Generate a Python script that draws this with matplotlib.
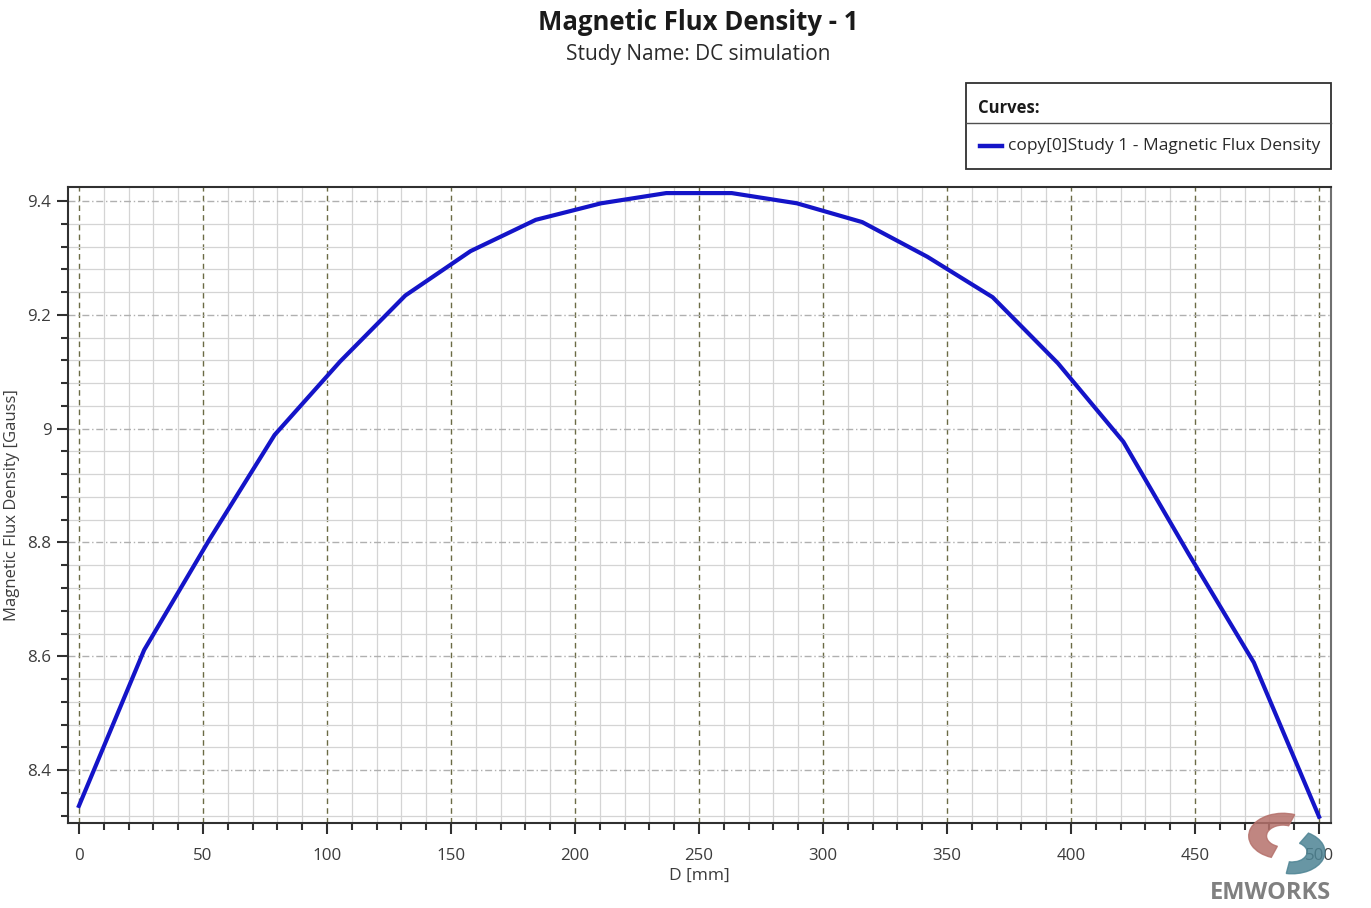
import matplotlib.pyplot as plt
from matplotlib.lines import Line2D
from matplotlib.patches import Rectangle, Wedge
from matplotlib.ticker import MultipleLocator, FuncFormatter

# sample positions along D [mm] and flux density values [Gauss]
d_mm = [0, 26.3, 52.6, 78.9, 105.3, 131.6, 157.9, 184.2, 210.5, 236.8,
        263.2, 289.5, 315.8, 342.1, 368.4, 394.7, 421.1, 447.4, 473.7, 500]
flux = [8.337, 8.611, 8.805, 8.989, 9.118, 9.234, 9.312, 9.367, 9.396, 9.414,
        9.414, 9.396, 9.363, 9.302, 9.231, 9.115, 8.977, 8.780, 8.589, 8.318]

title = "Magnetic Flux Density - 1"
subtitle = "Study Name: DC simulation"
curve_name = "copy[0]Study 1 - Magnetic Flux Density"

plt.rcParams['font.family'] = ['Open Sans', 'DejaVu Sans']

fig = plt.figure(figsize=(13.71, 9.08), dpi=100)
ax = fig.add_axes([0.0496, 0.0936, 0.9212, 0.7004])

line, = ax.plot(d_mm, flux, color="#1414c8", lw=3.0, solid_joinstyle='round')

ax.set_xlim(-4.4, 504.8)
ax.set_ylim(8.307, 9.4246)
ax.xaxis.set_major_locator(MultipleLocator(50))
ax.xaxis.set_minor_locator(MultipleLocator(10))
ax.yaxis.set_major_locator(MultipleLocator(0.2))
ax.yaxis.set_minor_locator(MultipleLocator(0.04))
ax.yaxis.set_major_formatter(FuncFormatter(lambda v, p: f"{v:.1f}" if abs(v - round(v)) > 1e-9 else f"{int(round(v))}"))

# grid: light minor lines, dashed majors
ax.grid(which='minor', color="#d4d4d4", lw=0.9, ls='-')
ax.xaxis.grid(which='major', color="#6b6b45", lw=1.0, ls=(0, (4, 3)))
ax.yaxis.grid(which='major', color="#b0b0b0", lw=1.0, ls=(0, (5, 2, 1, 2)))
ax.set_axisbelow(True)

for s in ax.spines.values():
    s.set_color("#303030")
    s.set_linewidth(1.5)
ax.spines['right'].set_color("#707070")

ax.tick_params(which='major', direction='out', length=8, width=1.5, color="#303030",
               labelsize=12.2, labelcolor="#3c3c3c")
ax.tick_params(which='minor', direction='out', length=5, width=1.5, color="#303030")
ax.tick_params(axis='x', which='major', pad=10)
ax.tick_params(axis='y', which='major', pad=4)

ax.set_xlabel("D [mm]", fontsize=12.5, color="#3c3c3c", labelpad=3)
ax.set_ylabel("Magnetic Flux Density [Gauss]", fontsize=12, color="#3c3c3c")
ax.yaxis.set_label_coords(-0.038, 0.5)

fig.text(0.509, 0.975, title, ha='center', va='center', fontsize=18.5, fontweight='bold', color="#1a1a1a")
fig.text(0.509, 0.940, subtitle, ha='center', va='center', fontsize=15, color="#2a2a2a")

# legend box drawn like the original "Curves:" panel
W, H = 1371.0, 908.0
x0, x1 = 966 / W, 1331 / W
y_top, y_bot = 1 - 83 / H, 1 - 169 / H
fig.add_artist(Rectangle((x0, y_bot), x1 - x0, y_top - y_bot, transform=fig.transFigure,
                         fill=False, edgecolor="#303030", lw=1.3))
fig.add_artist(Line2D([x0, x1], [1 - 123 / H] * 2, transform=fig.transFigure, color="#505050", lw=1.0))
fig.text(978 / W, 1 - 108 / H, "Curves:", fontsize=12, fontweight='bold', va='center', color="#1a1a1a")
fig.add_artist(Line2D([980 / W, 1002 / W], [1 - 146 / H] * 2, transform=fig.transFigure,
                      color=line.get_color(), lw=3.2))
fig.text(1008 / W, 1 - 146 / H, curve_name, fontsize=12.5, va='center', color="#2a2a2a")

# EMWORKS mark
fig.add_artist(Wedge((1283 / W, 1 - 836 / H), 0.025, 70, 250, width=0.013,
                     transform=fig.transFigure, color="#b5716b", alpha=0.85))
fig.add_artist(Wedge((1292 / W, 1 - 852 / H), 0.024, -100, 60, width=0.013,
                     transform=fig.transFigure, color="#4e8494", alpha=0.85))
fig.text(1270 / W, 1 - 893 / H, "EMWORKS", ha='center', va='center', fontsize=17,
         fontweight='bold', color="#808080")

fig.savefig("out.png", dpi=100)
